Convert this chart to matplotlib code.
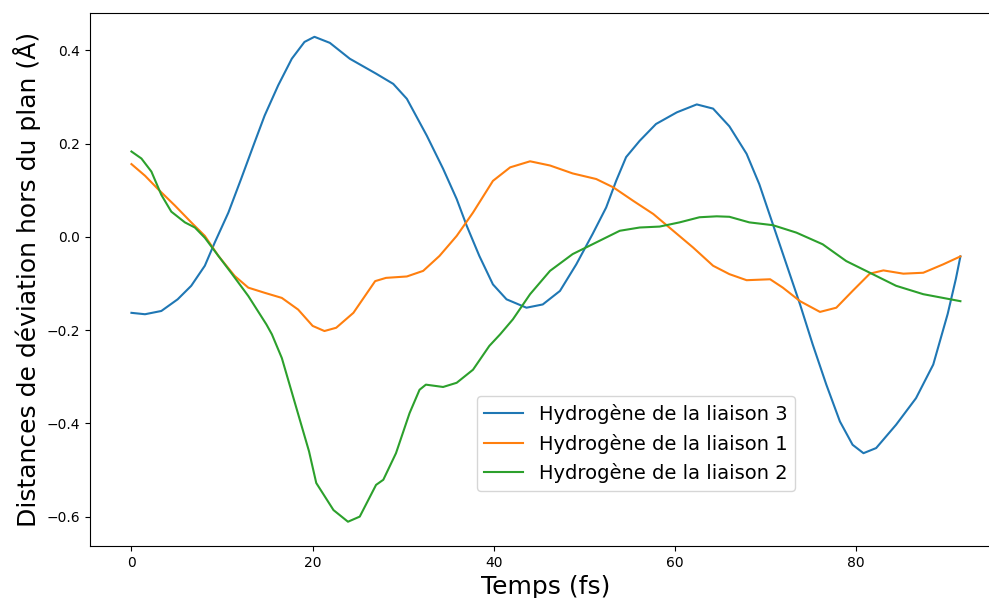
import matplotlib.pyplot as plt

# Temps (fs) et distances (Å)
x_h3 = [0, 1.5, 3.3, 5.1, 6.6, 8.1, 9.2, 10.7, 12.1, 13.6, 14.7, 16.2, 17.7, 19.1, 20.2,
        21.9, 24.1, 27.0, 28.9, 30.4, 32.6, 34.4, 35.9, 37.0, 38.4, 39.9, 41.4,
        43.6, 45.4, 47.3, 49.1, 50.9, 52.4, 53.5, 54.6, 56.1, 57.9, 60.2, 62.4, 64.2,
        66.0, 67.9, 69.3, 70.8, 72.3, 73.8, 75.2, 76.7, 78.2, 79.6, 80.8, 82.2, 84.4,
        86.6, 88.5, 90.1, 91.0, 91.5]
y_h3 = [-0.163, -0.166, -0.159, -0.134, -0.105, -0.062, -0.012, 0.052, 0.124, 0.203,
        0.26, 0.325, 0.382, 0.418, 0.429, 0.416, 0.382, 0.35, 0.328, 0.296, 0.217,
        0.146, 0.081, 0.024, -0.041, -0.102, -0.134, -0.152, -0.145, -0.116, -0.059,
        0.006, 0.063, 0.12, 0.171, 0.206, 0.242, 0.267, 0.284, 0.275, 0.237, 0.178,
        0.113, 0.027, -0.059, -0.145, -0.231, -0.317, -0.396, -0.446, -0.464, -0.453,
        -0.403, -0.346, -0.274, -0.165, -0.09, -0.042]

x_h1 = [0, 1.5, 2.9, 4.8, 6.6, 8.1, 9.6, 11.4, 12.9, 14.7, 16.6, 18.4, 20.0, 21.3,
        22.6, 24.5, 26.9, 28.1, 30.4, 32.2, 34.0, 35.9, 37.7, 39.9, 41.8, 44.0, 46.2,
        48.7, 51.3, 53.2, 55.4, 57.6, 59.8, 62.0, 64.2, 66.0, 67.9, 70.5, 71.9, 73.8,
        76.0, 77.8, 79.6, 81.5, 83.0, 85.2, 87.4, 89.6, 91.5]
y_h1 = [0.156, 0.131, 0.103, 0.067, 0.031, 0.002, -0.041, -0.084, -0.109, -0.12,
        -0.131, -0.156, -0.191, -0.202, -0.195, -0.163, -0.095, -0.088, -0.085, -0.073,
        -0.041, 0.002, 0.052, 0.12, 0.149, 0.162, 0.153, 0.136, 0.124, 0.106, 0.077,
        0.049, 0.013, -0.023, -0.062, -0.08, -0.093, -0.091, -0.109, -0.138, -0.161,
        -0.152, -0.116, -0.079, -0.072, -0.079, -0.077, -0.059, -0.042]

x_h2 = [0, 1.1, 2.2, 3.3, 4.4, 5.9, 7.0, 8.1, 9.6, 11.0, 12.9, 14.9, 15.5, 16.6, 18.1,
        19.6, 20.4, 22.3, 23.9, 25.2, 27.0, 27.8, 29.2, 30.7, 31.8, 32.5, 34.4, 35.9,
        37.7, 39.5, 40.7, 42.1, 44.0, 46.2, 48.7, 51.3, 53.9, 56.1, 58.3, 60.5, 62.7,
        64.6, 66.0, 68.2, 70.8, 73.4, 76.3, 78.9, 81.5, 84.4, 87.4, 91.5]
y_h2 = [0.183, 0.168, 0.14, 0.09, 0.054, 0.031, 0.02, -0.002, -0.041, -0.077, -0.127,
        -0.188, -0.209, -0.26, -0.36, -0.46, -0.528, -0.586, -0.611, -0.6, -0.532,
        -0.521, -0.464, -0.378, -0.328, -0.317, -0.322, -0.313, -0.285, -0.234, -0.209,
        -0.177, -0.123, -0.073, -0.037, -0.012, 0.013, 0.02, 0.022, 0.031, 0.042, 0.044,
        0.043, 0.031, 0.025, 0.009, -0.016, -0.052, -0.077, -0.105, -0.123, -0.138]

fig = plt.figure(figsize=(9.89, 5.98), dpi=100)
ax = fig.add_axes([0.091, 0.087, 0.922, 0.892])

ax.plot(x_h3, y_h3, label="Hydrogène de la liaison 3")
ax.plot(x_h1, y_h1, label="Hydrogène de la liaison 1")
ax.plot(x_h2, y_h2, label="Hydrogène de la liaison 2")

ax.spines["right"].set_visible(False)  # hors du cadre de l'image de référence

ax.set_xlabel("Temps (fs)", fontsize=18)
ax.set_ylabel("Distances de déviation hors du plan (Å)", fontsize=18)
ax.legend(fontsize=14, loc="lower left", bbox_to_anchor=(0.424, 0.103), borderaxespad=0)

fig.savefig("out.png", dpi=100)
